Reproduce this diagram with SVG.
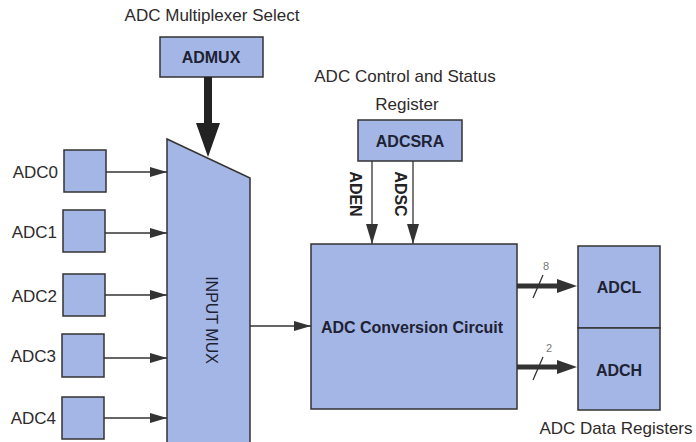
<svg xmlns="http://www.w3.org/2000/svg" width="696" height="442" viewBox="0 0 696 442">
<defs>
<style>
.box{fill:#a3b6e6;stroke:#333;stroke-width:1.5}
.lbl{font-family:"Liberation Sans",Arial,sans-serif;font-size:17px;fill:#2e2a2a}
.in{font-family:"Liberation Sans",Arial,sans-serif;font-size:16px;font-weight:bold;fill:#1e2233}
.rot{font-family:"Liberation Sans",Arial,sans-serif;font-size:16px;fill:#1e2233}
.rotb{font-family:"Liberation Sans",Arial,sans-serif;font-size:16px;font-weight:bold;fill:#222}
.bw{font-family:"Liberation Sans",Arial,sans-serif;font-size:11px;fill:#777}
.thin{stroke:#333;stroke-width:1.3;fill:none}
.bus{stroke:#333;stroke-width:5;fill:none}
</style>
<marker id="ah" markerWidth="17" markerHeight="10" refX="17" refY="5" orient="auto" markerUnits="userSpaceOnUse">
<path d="M0,0 L17,5 L0,10 Z" fill="#333"/>
</marker>
<marker id="ahd" markerWidth="20" markerHeight="12" refX="20" refY="6" orient="auto" markerUnits="userSpaceOnUse">
<path d="M0,0 L20,6 L0,12 Z" fill="#333"/>
</marker>
</defs>
<rect width="696" height="442" fill="#fff"/>

<text class="lbl" x="212" y="21" text-anchor="middle">ADC Multiplexer Select</text>
<text class="lbl" x="405" y="82" text-anchor="middle">ADC Control and Status</text>
<text class="lbl" x="407" y="110" text-anchor="middle">Register</text>
<text class="lbl" x="616" y="434" text-anchor="middle">ADC Data Registers</text>

<g id="admux">
<rect class="box" x="160" y="37" width="103" height="40"/>
<text class="in" x="211" y="63" text-anchor="middle">ADMUX</text>
</g>

<g id="inputmux">
<path class="box" d="M167,139 L250,178 L250,450 L167,450 Z"/>
<text class="rot" transform="translate(206,320) rotate(90)" text-anchor="middle">INPUT MUX</text>
</g>

<g id="adc0"><rect class="box" x="64" y="150" width="42" height="42"/><text class="lbl" x="58" y="178" text-anchor="end">ADC0</text></g>
<g id="adc1"><rect class="box" x="63" y="210" width="42" height="42"/><text class="lbl" x="57" y="238" text-anchor="end">ADC1</text></g>
<g id="adc2"><rect class="box" x="63" y="274" width="42" height="42"/><text class="lbl" x="57" y="302" text-anchor="end">ADC2</text></g>
<g id="adc3"><rect class="box" x="62" y="334" width="42" height="43"/><text class="lbl" x="56" y="362" text-anchor="end">ADC3</text></g>
<g id="adc4"><rect class="box" x="62" y="397" width="42" height="42"/><text class="lbl" x="56" y="424" text-anchor="end">ADC4</text></g>

<g id="adcsra">
<rect class="box" x="358" y="120" width="104" height="41"/>
<text class="in" x="410" y="147" text-anchor="middle">ADCSRA</text>
</g>

<g id="conv">
<rect class="box" x="311" y="244" width="206" height="165"/>
<text class="in" x="412" y="333" text-anchor="middle">ADC Conversion Circuit</text>
</g>

<g id="adcl">
<rect class="box" x="578" y="246" width="82" height="82"/>
<text class="in" x="619" y="293" text-anchor="middle">ADCL</text>
</g>
<g id="adch">
<rect class="box" x="578" y="328" width="82" height="82"/>
<text class="in" x="619" y="376" text-anchor="middle">ADCH</text>
</g>

<g id="connectors">
<path d="M204,77 L212,77 L212,123 L220,123 L208,157 L196,123 L204,123 Z" fill="#222"/>
<line class="thin" x1="106" y1="172" x2="167" y2="172" marker-end="url(#ah)"/>
<line class="thin" x1="105" y1="233" x2="167" y2="233" marker-end="url(#ah)"/>
<line class="thin" x1="105" y1="295" x2="167" y2="295" marker-end="url(#ah)"/>
<line class="thin" x1="104" y1="358" x2="167" y2="358" marker-end="url(#ah)"/>
<line class="thin" x1="104" y1="418" x2="167" y2="418" marker-end="url(#ah)"/>
<line class="thin" x1="250" y1="326" x2="311" y2="326" marker-end="url(#ah)"/>
<line class="thin" x1="372" y1="161" x2="372" y2="244" marker-end="url(#ahd)"/>
<line class="thin" x1="413" y1="161" x2="413" y2="244" marker-end="url(#ahd)"/>
<text class="rotb" transform="translate(350,194) rotate(90)" text-anchor="middle">ADEN</text>
<text class="rotb" transform="translate(395,194) rotate(90)" text-anchor="middle">ADSC</text>
<line class="bus" x1="517" y1="286" x2="562" y2="286"/>
<path d="M557,279 L577,286 L557,293 Z" fill="#333"/>
<line class="bus" x1="517" y1="367" x2="562" y2="367"/>
<path d="M557,360 L577,367 L557,374 Z" fill="#333"/>
<line class="thin" x1="533" y1="298" x2="543" y2="275"/>
<line class="thin" x1="533" y1="380" x2="543" y2="357"/>
<text class="bw" x="546" y="270" text-anchor="middle">8</text>
<text class="bw" x="549" y="352" text-anchor="middle">2</text>
</g>
</svg>
